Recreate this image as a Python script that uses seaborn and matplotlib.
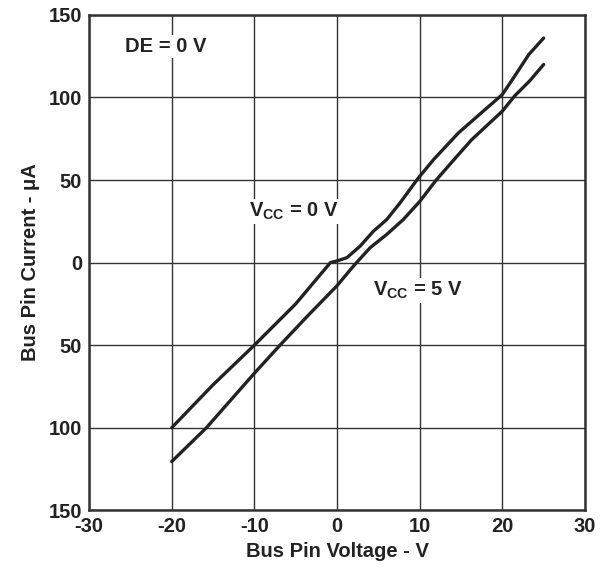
import matplotlib
matplotlib.use("Agg")
import matplotlib.pyplot as plt
import seaborn as sns
import pandas as pd

sns.set_theme(style="white")
plt.rcParams["font.family"] = ["Liberation Sans", "DejaVu Sans"]
plt.rcParams["axes.unicode_minus"] = False
plt.rcParams["mathtext.fontset"] = "custom"
plt.rcParams["mathtext.rm"] = "Liberation Sans:bold"
plt.rcParams["mathtext.it"] = "Liberation Sans:bold"
plt.rcParams["mathtext.bf"] = "Liberation Sans:bold"

# VCC = 0 V curve (upper)
vcc0_v = [-20, -15, -10, -5, -0.8, 0, 1.2, 2.8, 4.4, 6, 7.6, 9.8, 11.7, 14.7, 17.3, 20, 21.5, 23.2, 25]
vcc0_i = [-100, -74, -50, -25, 0, 1, 3, 10, 19, 26, 36, 51, 62.5, 78.6, 90, 101.8, 113, 126, 136]

# VCC = 5 V curve (lower)
vcc5_v = [-20, -15.8, -10, -6.9, -3.5, 0, 2, 4, 6, 8, 10, 12, 14, 16.3, 20, 21.5, 23.3, 25]
vcc5_i = [-120.5, -100, -67, -50, -32, -14, -2, 9, 17, 26, 37, 50, 61.5, 74.5, 91.7, 101, 110, 120]

x_ticks = [-30, -20, -10, 0, 10, 20, 30]
y_ticks = [-150, -100, -50, 0, 50, 100, 150]
y_tick_labels = ["150", "100", "50", "0", "50", "100", "150"]

df = pd.concat([
    pd.DataFrame({"v": vcc0_v, "i": vcc0_i, "curve": "VCC0"}),
    pd.DataFrame({"v": vcc5_v, "i": vcc5_i, "curve": "VCC5"}),
])

fig = plt.figure(figsize=(6.1, 5.74), dpi=100)
ax = fig.add_axes([0.146, 0.111, 0.813, 0.863])

sns.lineplot(data=df, x="v", y="i", units="curve", estimator=None, sort=False,
             color="#222222", linewidth=2.4, ax=ax, legend=False)

ax.set_xlim(-30, 30)
ax.set_ylim(-150, 150)
ax.set_xticks(x_ticks)
ax.set_yticks(y_ticks)
ax.set_yticklabels(y_tick_labels)
ax.grid(True, color="#333333", linewidth=1.0)
ax.tick_params(length=0, labelsize=14.5, colors="#222222", pad=5)
for lbl in ax.get_xticklabels() + ax.get_yticklabels():
    lbl.set_fontweight("bold")
for s in ax.spines.values():
    s.set_color("#333333")
    s.set_linewidth(1.8)

ax.set_xlabel("Bus Pin Voltage - V", fontsize=14.5, fontweight="bold", color="#222222", labelpad=4)
ax.set_ylabel("Bus Pin Current - \u03bcA", fontsize=14.5, fontweight="bold", color="#222222", labelpad=6)

bbox = dict(facecolor="white", edgecolor="none", pad=1.5)
ax.text(-25.6, 131, "DE = 0 V", fontsize=14.5, fontweight="bold", color="#222222",
        va="center", ha="left", bbox=bbox)
ax.text(-10.7, 31, r"V$_{\mathrm{CC}}$ = 0 V", fontsize=14.5, fontweight="bold", color="#222222",
        va="center", ha="left", bbox=bbox)
ax.text(4.4, -17, r"V$_{\mathrm{CC}}$ = 5 V", fontsize=14.5, fontweight="bold", color="#222222",
        va="center", ha="left", bbox=bbox)

fig.savefig("out.png", dpi=100)
